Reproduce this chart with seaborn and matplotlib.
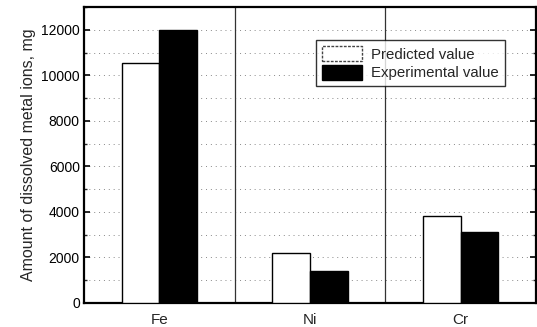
import matplotlib
matplotlib.use("Agg")
import matplotlib.pyplot as plt
import seaborn as sns
import pandas as pd
from matplotlib.ticker import MultipleLocator

metals = ["Fe", "Ni", "Cr"]
predicted = [10550, 2200, 3800]
experimental = [12000, 1400, 3100]
series_names = ["Predicted value", "Experimental value"]

df = pd.DataFrame({
    "metal": metals * 2,
    "value": predicted + experimental,
    "series": [series_names[0]] * 3 + [series_names[1]] * 3,
})

sns.set_theme(style="white")
plt.rcParams["font.family"] = ["Liberation Sans", "DejaVu Sans"]

fig = plt.figure(figsize=(5.37, 3.27), dpi=100)
ax = fig.add_axes([0.1564, 0.0734, 0.8418, 0.905])

sns.barplot(data=df, x="metal", y="value", hue="series", order=metals,
            hue_order=series_names, palette=["white", "black"],
            width=0.5, edgecolor="black", linewidth=1.0, ax=ax,
            saturation=1, zorder=3)

ax.set_xlim(-0.5, 2.5)
ax.set_ylim(0, 13000)
ax.yaxis.set_major_locator(MultipleLocator(2000))
ax.yaxis.set_minor_locator(MultipleLocator(1000))
ax.grid(axis="y", which="both", linestyle=(0, (1, 4)), color="#888888", linewidth=0.7, zorder=0)
for xv in [0.5, 1.5]:
    ax.axvline(xv, color="#333333", linewidth=0.9, zorder=1)

ax.tick_params(axis="y", which="major", direction="in", length=4, width=1.2,
               left=True, right=True, labelsize=10, colors="black", pad=3)
ax.tick_params(axis="y", which="minor", direction="in", length=2.5, width=1.0,
               left=True, right=True)
ax.tick_params(axis="x", which="both", bottom=False, labelsize=11, pad=1)
for s in ax.spines.values():
    s.set_color("black")
    s.set_linewidth(1.6)

ax.set_xlabel("")
ax.set_ylabel("Amount of dissolved metal ions, mg", fontsize=11.5, labelpad=4)

handles, labels = ax.get_legend_handles_labels()
leg = ax.legend(handles, labels, loc="upper left", bbox_to_anchor=(0.513, 0.888),
                frameon=True, fancybox=False, fontsize=10.8, handlelength=2.7,
                handleheight=1.15, borderpad=0.4, labelspacing=0.2,
                handletextpad=0.6, borderaxespad=0)
leg.get_frame().set_edgecolor("black")
leg.get_frame().set_linewidth(1.0)
leg.legend_handles[0].set_linestyle((0, (2, 1)))
leg.legend_handles[0].set_edgecolor("#444444")

fig.savefig("out.png", dpi=100)
